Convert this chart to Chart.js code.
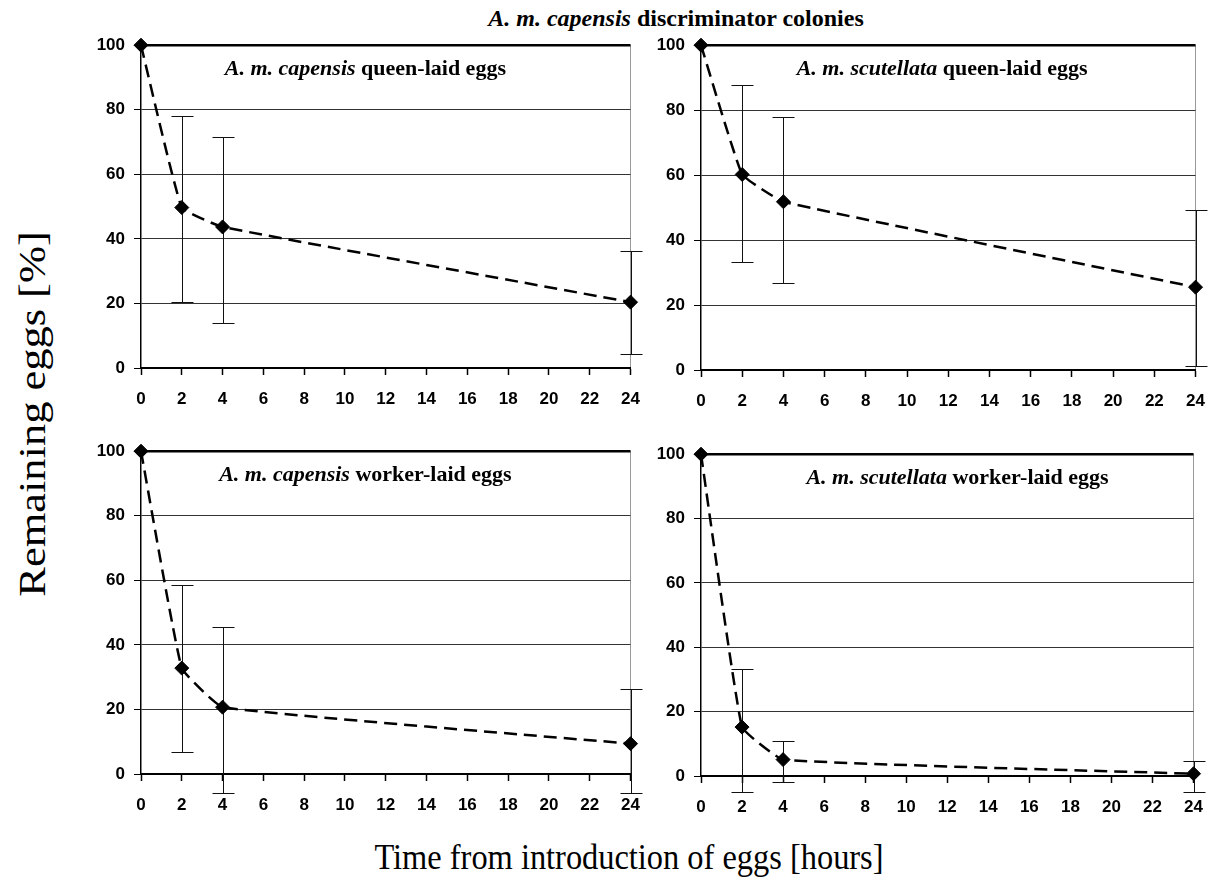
<!DOCTYPE html>
<html>
<head>
<meta charset="utf-8">
<script src="https://cdn.jsdelivr.net/npm/chart.js@4.4.1/dist/chart.umd.min.js"></script>
<style>
  body { margin: 0; background: #fff; width: 1219px; height: 889px; position: relative; overflow: hidden; }
  canvas { position: absolute; }
  .txt { position: absolute; font-family: "Liberation Serif", "Times New Roman", serif; color: #000; white-space: nowrap; }
  #mainTitle { font-weight: bold; font-size: 24px; left: 676px; top: 18px; transform: translate(-50%, -50%); }
  #yTitle { font-size: 38px; left: 32px; top: 414px; transform: translate(-50%, -50%) rotate(-90deg) scaleX(1.17); }
  #xTitle { font-size: 36px; left: 629px; top: 857px; transform: translate(-50%, -50%) scaleX(0.9); }
</style>
</head>
<body>
<div class="txt" id="mainTitle"><i>A. m. capensis</i> discriminator colonies</div>
<div class="txt" id="yTitle">Remaining eggs [%]</div>
<div class="txt" id="xTitle">Time from introduction of eggs [hours]</div>

<canvas id="p1" width="574" height="394" style="left:80px;top:26px"></canvas>
<canvas id="p2" width="579" height="396" style="left:640px;top:26px"></canvas>
<canvas id="p3" width="574" height="394" style="left:80px;top:432px"></canvas>
<canvas id="p4" width="577" height="393" style="left:640px;top:435px"></canvas>

<script>
// hours after introduction
const hours = [0, 2, 4, 24];

// A. m. capensis queen-laid eggs
const capQueen     = [100, 49.7, 43.7, 20.4];
const capQueenLow  = [null, 20.3, 13.8, 4.2];
const capQueenHigh = [null, 78.2, 71.6, 36.3];

// A. m. scutellata queen-laid eggs
const scuQueen     = [100, 60.2, 51.8, 25.5];
const scuQueenLow  = [null, 33.4, 26.9, 1.2];
const scuQueenHigh = [null, 87.6, 77.9, 49.2];

// A. m. capensis worker-laid eggs
const capWorker     = [100, 32.8, 20.7, 9.4];
const capWorkerLow  = [null, 6.9, -5.8, -5.8];
const capWorkerHigh = [null, 58.4, 45.6, 26.4];

// A. m. scutellata worker-laid eggs
const scuWorker     = [100, 15.2, 5.1, 0.7];
const scuWorkerLow  = [null, -4.9, -1.8, -4.9];
const scuWorkerHigh = [null, 33.4, 11.0, 4.6];

const tickFont = { family: 'Liberation Sans', weight: 'bold', size: 17 };

// vertical error bars with caps, drawn under the markers
const errorBars = {
  id: 'errorBars',
  beforeDatasetsDraw(chart, args, opts) {
    const ctx = chart.ctx;
    const y = chart.scales.y;
    const meta = chart.getDatasetMeta(0);
    ctx.save();
    ctx.strokeStyle = '#111';
    ctx.lineWidth = 1;
    meta.data.forEach((pt, i) => {
      const lo = opts.low[i], hi = opts.high[i];
      if (lo == null) return;
      const x = Math.round(pt.x) + 0.5;
      const yl = Math.round(y.getPixelForValue(lo)) + 0.5;
      const yh = Math.round(y.getPixelForValue(hi)) + 0.5;
      ctx.beginPath();
      ctx.moveTo(x, yl); ctx.lineTo(x, yh);
      ctx.moveTo(x - 11, yl); ctx.lineTo(x + 11, yl);
      ctx.moveTo(x - 11, yh); ctx.lineTo(x + 11, yh);
      ctx.stroke();
    });
    ctx.restore();
  }
};

// panel heading: italic taxon + bold rest
const panelTitle = {
  id: 'panelTitle',
  afterDraw(chart, args, opts) {
    const ctx = chart.ctx;
    const area = chart.chartArea;
    const cx = chart.scales.x.getPixelForValue(opts.at);
    const fam = '"Liberation Serif", "Times New Roman", serif';
    ctx.save();
    ctx.fillStyle = '#000';
    ctx.textBaseline = 'middle';
    ctx.font = 'italic bold 22px ' + fam;
    const w1 = ctx.measureText(opts.taxon).width;
    ctx.font = 'bold 22px ' + fam;
    const w2 = ctx.measureText(opts.rest).width;
    let x = cx - (w1 + w2) / 2;
    const ty = area.top + 24;
    ctx.font = 'italic bold 22px ' + fam;
    ctx.fillText(opts.taxon, x, ty);
    ctx.font = 'bold 22px ' + fam;
    ctx.fillText(opts.rest, x + w1, ty);
    ctx.restore();
  }
};

function makePanel(id, mean, low, high, taxon, rest, at, padRight) {
  new Chart(document.getElementById(id), {
    type: 'line',
    data: {
      datasets: [{
        data: hours.map((h, i) => ({ x: h, y: mean[i] })),
        borderColor: '#000',
        borderWidth: 2.5,
        borderDash: [13, 7],
        tension: 0.1,
        fill: false,
        clip: false,
        pointStyle: 'rectRot',
        pointRadius: 7,
        pointBackgroundColor: '#000',
        pointBorderColor: '#000',
        pointBorderWidth: 1
      }]
    },
    options: {
      responsive: false,
      animation: false,
      layout: { padding: { top: 15, right: padRight, left: 0, bottom: 0 } },
      plugins: {
        legend: { display: false },
        tooltip: { enabled: false },
        errorBars: { low: low, high: high },
        panelTitle: { taxon: taxon, rest: rest, at: at }
      },
      scales: {
        x: {
          type: 'linear', min: 0, max: 24,
          ticks: { stepSize: 2, font: tickFont, color: '#000', padding: 14, maxRotation: 0, autoSkip: false },
          grid: {
            color: c => c.tick && c.tick.value === 24 ? '#999' : 'rgba(0,0,0,0)',
            tickColor: '#000', tickLength: 7, lineWidth: 1, tickWidth: 1.5
          },
          border: { color: '#000', width: 2 },
          afterFit: s => { s.height = 52; }
        },
        y: {
          min: 0, max: 100,
          ticks: { stepSize: 20, font: tickFont, color: '#000', padding: 9 },
          grid: {
            color: c => c.tick && c.tick.value === 100 ? '#000' : '#333',
            lineWidth: c => c.tick && c.tick.value === 100 ? 2.5 : 1,
            tickColor: '#000', tickLength: 7, tickWidth: 1
          },
          border: { color: '#000', width: 1.5 },
          afterFit: s => { s.width = 61; }
        }
      }
    },
    plugins: [errorBars, panelTitle]
  });
}

makePanel('p1', capQueen, capQueenLow, capQueenHigh, 'A. m. capensis', ' queen-laid eggs', 11.0, 21);
makePanel('p2', scuQueen, scuQueenLow, scuQueenHigh, 'A. m. scutellata', ' queen-laid eggs', 11.7, 22);
makePanel('p3', capWorker, capWorkerLow, capWorkerHigh, 'A. m. capensis', ' worker-laid eggs', 11.0, 21);
makePanel('p4', scuWorker, scuWorkerLow, scuWorkerHigh, 'A. m. scutellata', ' worker-laid eggs', 12.5, 22);
</script>
</body>
</html>
